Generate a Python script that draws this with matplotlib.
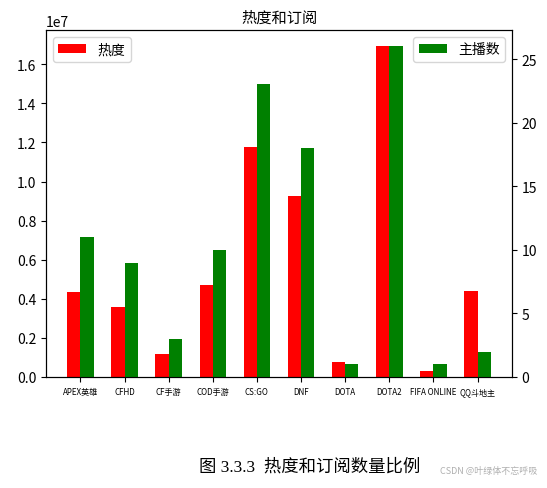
import numpy as np
import matplotlib
matplotlib.use("Agg")
import matplotlib.pyplot as plt

plt.rcParams["font.family"] = ["Noto Sans CJK SC", "DejaVu Sans"]
plt.rcParams["axes.unicode_minus"] = False

games = ["APEX英雄", "CFHD", "CF手游", "COD手游", "CS:GO", "DNF", "DOTA", "DOTA2", "FIFA ONLINE", "QQ斗地主"]
heat = [4.34e6, 3.57e6, 1.18e6, 4.73e6, 1.179e7, 9.28e6, 7.5e5, 1.692e7, 3.1e5, 4.39e6]
streamers = [11, 9, 3, 10, 23, 18, 1, 26, 1, 2]

width = 0.3
x = np.arange(len(games))

fig = plt.figure(figsize=(5.47, 4.89), dpi=100)
ax = fig.add_axes([0.084, 0.227, 0.852, 0.710])
ax.bar(x - width / 2, heat, width=width, color="red", label="热度")
ax.set_xticks(x)
ax.set_xticklabels(games, fontsize=5.8)
ax.set_title("热度和订阅", fontsize=11)
ax.legend(loc="upper left")

ax2 = ax.twinx()
ax2.bar(x + width / 2, streamers, width=width, color="green", label="主播数")
ax2.legend(loc="upper right")

fig.text(0.566, 0.045, "图 3.3.3  热度和订阅数量比例", ha="center", va="center",
         fontsize=12.5, family=["Liberation Serif", "Noto Sans CJK SC"])
fig.text(0.893, 0.036, "CSDN @叶绿体不忘呼吸", ha="center", va="center",
         fontsize=6.5, color="#b0b0b0")

fig.savefig("out.png", dpi=100)
